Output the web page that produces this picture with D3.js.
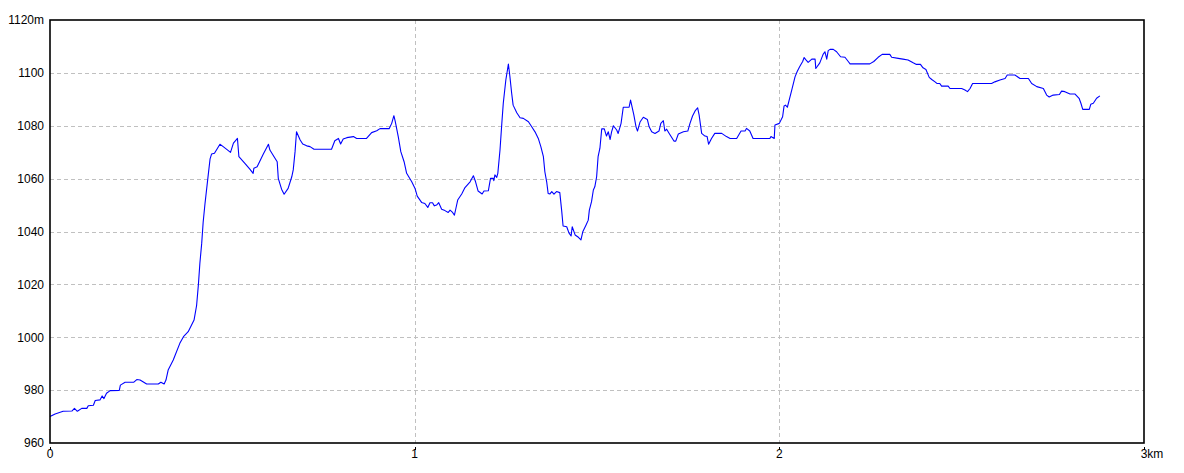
<!DOCTYPE html>
<html>
<head>
<meta charset="utf-8">
<script src="https://cdn.jsdelivr.net/npm/d3@7"></script>
<style>
html,body{margin:0;padding:0;background:#fff;}
svg{display:block;}
text{font-family:"Liberation Sans",Arial,sans-serif;font-size:12px;fill:#000;}
</style>
</head>
<body>
<svg id="chart" width="1184" height="473"></svg>
<script>
// distance along track (km)
const distanceKm = [0.000,0.014,0.036,0.060,0.067,0.075,0.087,0.101,0.105,0.119,0.124,0.137,0.143,0.148,0.155,0.165,0.190,0.193,0.206,0.230,0.238,0.247,0.265,0.297,0.304,0.313,0.318,0.324,0.338,0.356,0.366,0.379,0.395,0.402,0.407,0.411,0.416,0.420,0.425,0.434,0.439,0.443,0.451,0.466,0.475,0.489,0.495,0.503,0.514,0.518,0.535,0.548,0.557,0.559,0.568,0.585,0.599,0.603,0.617,0.623,0.626,0.635,0.642,0.653,0.663,0.667,0.672,0.676,0.686,0.693,0.704,0.713,0.724,0.772,0.781,0.791,0.797,0.804,0.814,0.832,0.841,0.868,0.882,0.896,0.905,0.930,0.937,0.943,0.947,0.955,0.962,0.971,0.978,0.992,1.001,1.007,1.019,1.028,1.036,1.042,1.049,1.054,1.060,1.066,1.074,1.083,1.092,1.097,1.104,1.109,1.113,1.118,1.129,1.138,1.152,1.161,1.167,1.174,1.185,1.190,1.202,1.208,1.216,1.217,1.220,1.225,1.228,1.234,1.239,1.243,1.250,1.257,1.261,1.266,1.270,1.280,1.289,1.298,1.312,1.321,1.330,1.339,1.346,1.353,1.357,1.362,1.366,1.371,1.376,1.382,1.389,1.398,1.403,1.407,1.417,1.423,1.429,1.432,1.440,1.449,1.456,1.461,1.470,1.476,1.479,1.485,1.490,1.494,1.499,1.503,1.508,1.513,1.520,1.526,1.531,1.536,1.540,1.545,1.554,1.558,1.566,1.572,1.588,1.592,1.601,1.607,1.611,1.618,1.627,1.638,1.643,1.650,1.659,1.670,1.675,1.682,1.686,1.691,1.698,1.711,1.716,1.723,1.737,1.749,1.755,1.762,1.769,1.776,1.780,1.787,1.796,1.802,1.806,1.814,1.823,1.842,1.855,1.865,1.883,1.895,1.906,1.910,1.919,1.928,1.974,1.977,1.986,1.988,2.000,2.009,2.013,2.017,2.022,2.027,2.034,2.043,2.049,2.056,2.064,2.068,2.073,2.079,2.089,2.098,2.100,2.104,2.111,2.120,2.125,2.130,2.134,2.139,2.148,2.157,2.168,2.180,2.189,2.194,2.248,2.259,2.271,2.282,2.303,2.308,2.326,2.339,2.353,2.367,2.376,2.387,2.394,2.402,2.411,2.418,2.427,2.432,2.440,2.445,2.463,2.468,2.500,2.509,2.516,2.523,2.530,2.582,2.591,2.605,2.619,2.625,2.646,2.660,2.683,2.692,2.706,2.724,2.733,2.740,2.751,2.768,2.774,2.783,2.797,2.811,2.822,2.827,2.832,2.850,2.854,2.861,2.870,2.879];

// elevation (m)
const elevationM = [970.0,971.0,972.0,972.1,973.1,972.0,973.1,973.1,974.1,974.3,976.1,976.3,977.8,976.8,978.8,979.8,979.9,981.9,983.0,983.0,984.0,983.8,982.3,982.3,983.0,982.3,983.8,987.6,991.4,997.7,1000.2,1002.1,1006.5,1012.0,1020.0,1028.0,1035.5,1043.5,1050.5,1061.5,1067.5,1069.3,1069.6,1073.0,1072.1,1070.6,1069.9,1073.4,1075.2,1068.3,1065.7,1063.6,1062.0,1063.9,1064.5,1069.3,1073.0,1070.8,1067.7,1066.4,1060.1,1056.0,1054.1,1056.3,1060.7,1063.3,1070.2,1077.7,1074.6,1073.1,1072.4,1072.1,1071.1,1071.1,1074.3,1075.2,1073.1,1075.0,1075.5,1075.9,1075.2,1075.2,1077.4,1078.1,1078.9,1078.9,1080.9,1083.8,1081.5,1075.9,1070.2,1066.4,1062.0,1058.8,1056.3,1053.4,1051.0,1050.6,1049.1,1050.9,1050.9,1049.7,1050.0,1050.9,1048.4,1047.9,1047.2,1048.1,1047.2,1046.2,1048.7,1051.9,1054.2,1056.6,1058.8,1061.1,1058.8,1055.3,1054.2,1055.3,1055.4,1060.1,1060.1,1059.2,1061.4,1060.5,1062.0,1070.8,1080.9,1088.5,1097.3,1103.3,1098.8,1092.3,1087.8,1084.9,1083.0,1082.8,1081.5,1079.6,1077.7,1075.2,1072.1,1068.3,1062.6,1058.8,1054.4,1054.2,1055.1,1054.1,1055.1,1054.7,1048.1,1042.1,1041.8,1039.5,1038.3,1041.8,1038.7,1037.8,1036.8,1039.9,1042.5,1044.3,1048.1,1051.3,1055.7,1056.9,1060.7,1068.3,1071.5,1078.8,1078.8,1076.1,1077.7,1074.8,1077.7,1080.0,1078.4,1077.1,1080.9,1087.0,1087.0,1089.7,1084.1,1079.6,1078.0,1081.4,1083.2,1082.4,1079.6,1077.7,1077.1,1078.0,1080.9,1081.9,1078.0,1078.7,1077.1,1074.2,1074.2,1076.9,1077.7,1078.0,1080.9,1083.7,1085.6,1086.8,1084.1,1077.1,1076.1,1075.9,1073.0,1075.2,1077.1,1077.1,1075.9,1075.2,1075.2,1078.0,1078.0,1079.0,1078.0,1075.2,1075.2,1075.9,1075.2,1080.3,1080.9,1083.4,1087.5,1087.8,1087.0,1089.7,1093.5,1098.5,1100.5,1102.4,1104.3,1105.8,1104.9,1104.0,1105.2,1105.2,1101.7,1102.4,1103.8,1107.0,1108.0,1105.2,1108.4,1108.9,1108.9,1108.0,1106.1,1105.9,1104.3,1103.4,1103.4,1104.3,1105.9,1107.0,1107.0,1105.9,1105.5,1105.2,1104.9,1103.8,1103.2,1103.2,1101.9,1101.3,1098.3,1097.5,1096.6,1096.0,1096.0,1095.0,1095.0,1094.1,1094.1,1093.5,1092.9,1094.1,1096.0,1096.0,1096.6,1097.3,1097.9,1099.2,1099.2,1097.9,1097.9,1096.0,1094.8,1094.1,1091.6,1090.9,1091.6,1091.8,1093.1,1092.9,1092.0,1092.0,1090.4,1088.5,1086.2,1086.2,1088.1,1088.5,1090.4,1091.3];

const xTicks = [0, 1, 2, 3];
const xTickLabels = ["0", "1", "2", "3km"];
const yTicks = [960, 980, 1000, 1020, 1040, 1060, 1080, 1100, 1120];
const yTickLabels = ["960", "980", "1000", "1020", "1040", "1060", "1080", "1100", "1120m"];

const svg = d3.select("#chart");
const L = 50, R = 1144, T = 20, B = 443;

const x = d3.scaleLinear().domain([0, 3]).range([L, R]);
const y = d3.scaleLinear().domain([960, 1120]).range([B, T]);

// grid
const grid = svg.append("g");
grid.selectAll("line.h").data(yTicks.slice(1, -1)).join("line")
  .attr("x1", L).attr("x2", R)
  .attr("y1", d => Math.round(y(d)) + 0.5).attr("y2", d => Math.round(y(d)) + 0.5)
  .attr("stroke", "#c0c0c0").attr("stroke-dasharray", "4,3");
grid.selectAll("line.v").data(xTicks.slice(1, -1)).join("line")
  .attr("y1", T).attr("y2", B)
  .attr("x1", d => Math.round(x(d)) + 0.5).attr("x2", d => Math.round(x(d)) + 0.5)
  .attr("stroke", "#c0c0c0").attr("stroke-dasharray", "4,3");

// line
const data = distanceKm.map((d, i) => [d, elevationM[i]]);
svg.append("path")
  .datum(data)
  .attr("fill", "none")
  .attr("stroke", "#0000ff")
  .attr("stroke-width", 1.1)
  .attr("stroke-linejoin", "round")
  .attr("d", d3.line().x(d => x(d[0])).y(d => y(d[1])));

// frame
svg.append("rect")
  .attr("x", L).attr("y", T).attr("width", R - L).attr("height", B - T)
  .attr("fill", "none").attr("stroke", "#000").attr("stroke-width", 1.6);

// x ticks
svg.selectAll("line.xt").data(xTicks).join("line")
  .attr("x1", d => Math.round(x(d)) + 0.5).attr("x2", d => Math.round(x(d)) + 0.5)
  .attr("y1", B + 4).attr("y2", B + 7)
  .attr("stroke", "#000");

// x labels (number centered on tick)
svg.selectAll("text.xl").data(xTicks).join("text")
  .attr("x", d => x(d) - 3.3)
  .attr("y", B + 15)
  .attr("text-anchor", "start")
  .text((d, i) => xTickLabels[i]);

// y labels
svg.selectAll("text.yl").data(yTicks).join("text")
  .attr("x", L - 6)
  .attr("y", d => y(d))
  .attr("dy", "0.36em")
  .attr("text-anchor", "end")
  .text((d, i) => yTickLabels[i]);
</script>
</body>
</html>
